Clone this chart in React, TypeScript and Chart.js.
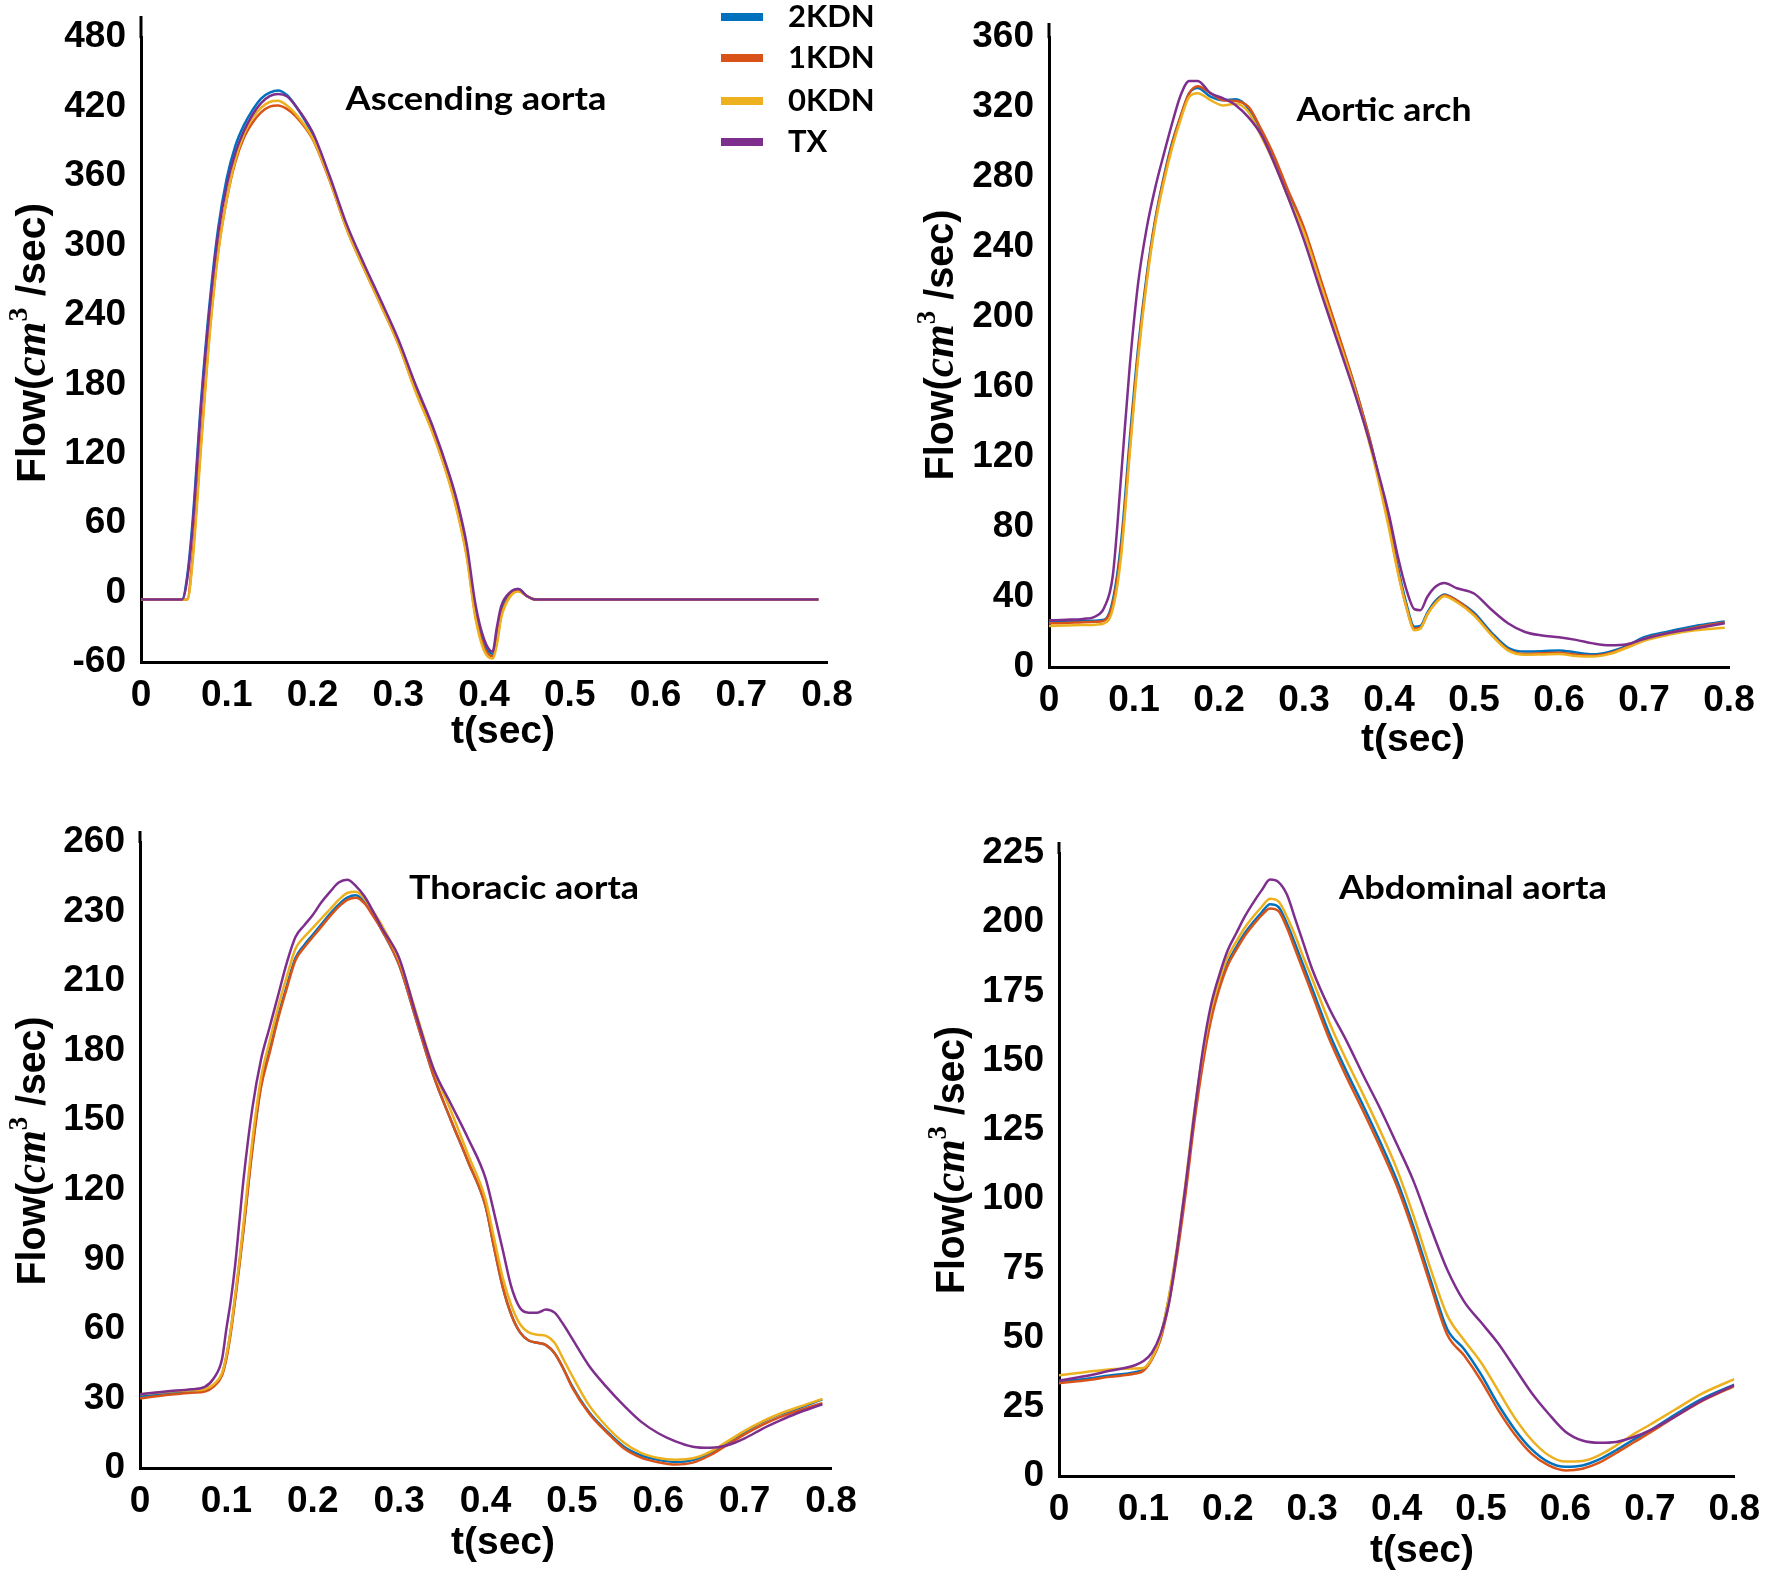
import { useEffect, useRef } from 'react';
import { Chart, registerables } from 'chart.js';

Chart.register(...registerables);

const seriesNames = ['2KDN', '1KDN', '0KDN', 'TX'];
const seriesColors = ['#0072BD', '#D95319', '#EDB120', '#7E2F8E'];
const xTickLabels = ['0', '0.1', '0.2', '0.3', '0.4', '0.5', '0.6', '0.7', '0.8'];

// Ascending aorta
const ascYTicks = ['-60', '0', '60', '120', '180', '240', '300', '360', '420', '480'];
const ascTime = [0, 0.048, 0.054, 0.06, 0.07, 0.08, 0.09, 0.1, 0.11, 0.12, 0.13, 0.14, 0.15, 0.16, 0.17, 0.18, 0.2, 0.22, 0.24, 0.26, 0.28, 0.3, 0.32, 0.34, 0.36, 0.37, 0.38, 0.39, 0.4, 0.41, 0.415, 0.42, 0.43, 0.44, 0.45, 0.46, 0.79];
const asc2KDN = [-6, -6, 15, 60, 165, 250, 315, 358, 386, 404, 417, 427, 432, 434, 430, 421, 396, 358, 315, 281, 249, 216, 176, 140, 97, 70, 36, -16, -44, -53, -36, -16, -1, 3, -3, -6, -6];
const asc1KDN = [-6, -6, -6, 30, 130, 225, 295, 340, 372, 393, 406, 415, 420, 421, 418, 412, 392, 356, 314, 280, 248, 215, 175, 139, 95, 67, 32, -20, -47, -55, -42, -20, -3, 2, -3, -6, -6];
const asc0KDN = [-6, -6, -6, 25, 125, 222, 293, 340, 374, 396, 410, 419, 424, 425, 421, 414, 393, 357, 314, 280, 248, 215, 174, 138, 94, 66, 30, -22, -50, -57, -45, -22, -4, 1, -3, -6, -6];
const ascTX = [-6, -6, 12, 55, 160, 245, 310, 352, 380, 399, 413, 423, 429, 431, 429, 421, 398, 360, 318, 284, 252, 219, 180, 144, 101, 75, 41, -10, -40, -51, -30, -12, 0, 3, -3, -6, -6];

// Aortic arch
const archYTicks = ['0', '40', '80', '120', '160', '200', '240', '280', '320', '360'];
const archTime = [0, 0.02, 0.04, 0.055, 0.065, 0.075, 0.085, 0.095, 0.105, 0.115, 0.125, 0.135, 0.145, 0.155, 0.165, 0.175, 0.19, 0.205, 0.22, 0.235, 0.25, 0.265, 0.28, 0.3, 0.32, 0.34, 0.36, 0.38, 0.4, 0.41, 0.42, 0.43, 0.437, 0.445, 0.455, 0.465, 0.48, 0.5, 0.52, 0.54, 0.56, 0.58, 0.6, 0.62, 0.64, 0.66, 0.68, 0.7, 0.73, 0.76, 0.795];
const arch2KDN = [25.9, 26, 26.5, 26.5, 27, 38, 72, 130, 183, 224, 256, 280, 300, 315, 328, 331, 326, 324, 324.5, 319, 305, 290, 272, 250, 220, 190, 160, 125, 82, 58, 37, 23, 23.5, 31, 38, 41.5, 38, 31, 20, 11, 8.8, 9, 9.5, 8.3, 7.3, 8.8, 12, 17, 20.5, 23.5, 26];
const arch1KDN = [25, 25.2, 25.6, 25.8, 26.5, 36, 68, 125, 180, 222, 255, 279, 299, 315, 328, 332, 328, 324, 323.5, 320, 307, 292, 274, 251, 221, 191, 160, 125, 81, 56, 35, 22, 22.5, 30, 37, 41, 38, 30, 19, 10, 7.5, 7.8, 8.2, 7, 6.5, 8, 11.5, 16, 19.5, 22.5, 25.5];
const arch0KDN = [23.5, 23.7, 24, 24.2, 25, 33, 64, 122, 177, 220, 253, 277, 297, 313, 326, 328, 324, 321, 322, 317, 303, 288, 270, 248, 218, 188, 158, 122, 79, 55, 35, 21, 22, 30, 36.5, 40.5, 37, 29.5, 18.5, 9.5, 7, 7.2, 7.5, 6.3, 6, 7.5, 11, 15, 18.5, 21, 22.5];
const archTX = [26.7, 27, 27.5, 29, 34, 52, 110, 172, 220, 251, 274, 293, 311, 327, 335, 335, 328, 325, 321, 314, 304, 288, 270, 244, 214, 185, 156, 124, 87, 64, 45, 33, 32.5, 40, 46, 48, 45, 42, 33, 25, 20, 18, 17, 15.5, 13.5, 12.4, 13, 16, 19.5, 22, 25];

// Thoracic aorta (labels as printed: the 9th tick reads 230)
const thorYTicks = ['0', '30', '60', '90', '120', '150', '180', '210', '230', '260'];
const thorTime = [0, 0.03, 0.06, 0.075, 0.085, 0.095, 0.1, 0.105, 0.11, 0.115, 0.12, 0.13, 0.14, 0.15, 0.16, 0.17, 0.18, 0.19, 0.2, 0.21, 0.22, 0.23, 0.24, 0.25, 0.26, 0.27, 0.28, 0.3, 0.32, 0.34, 0.36, 0.38, 0.4, 0.41, 0.42, 0.43, 0.44, 0.45, 0.46, 0.47, 0.48, 0.49, 0.5, 0.52, 0.54, 0.56, 0.58, 0.6, 0.62, 0.64, 0.66, 0.68, 0.7, 0.72, 0.74, 0.76, 0.79];
const thor2KDN = [30.7, 32, 33, 33.5, 35.5, 40.5, 48, 59, 73, 88, 104, 138, 165, 180, 195, 208, 220, 225.5, 230, 234.5, 239, 243, 246, 247, 244, 238.5, 232, 217, 193, 169, 150, 132, 113, 95, 78, 66, 58.5, 55, 54, 53, 49.5, 43, 35.5, 24, 16, 9.3, 5.5, 3.5, 2.6, 3.4, 6.5, 11, 15.6, 19.7, 23, 25.5, 29.6];
const thor1KDN = [30, 31.5, 32.5, 33, 35, 40, 47, 58, 72, 87, 103, 137, 164, 179, 194, 207, 219, 224.5, 229, 233.5, 238, 242, 245, 246, 243.5, 238, 232, 217, 193, 169, 150, 132, 113, 95, 78, 66, 58.5, 55, 54, 53, 49.5, 43, 35, 23.5, 15.5, 8.5, 4.5, 2.5, 1.5, 2.3, 5.5, 10, 14.5, 18.5, 21.8, 24.5, 28];
const thor0KDN = [31.8, 32.8, 33.5, 34, 36, 41, 48.5, 59.5, 74, 89, 106, 141, 168, 184, 199, 212, 224, 229, 233, 237, 241, 245, 248, 248.5, 245.5, 240, 234, 219, 196, 172, 154, 135, 116, 99, 82, 70, 62, 58.5, 57.5, 57, 54, 47, 40, 27, 18, 11, 6.5, 4.3, 3.6, 4.2, 7, 11.5, 16, 20, 23.3, 26, 29.8];
const thorTX = [31.8, 33, 34, 35, 38.5, 47, 60, 72, 87, 106, 125, 155, 176, 190, 204, 218, 229, 234, 238.5, 244, 248.5, 252.5, 253.7, 251, 246.5, 240, 233, 220, 195, 172, 157, 142, 125, 110, 94, 78, 69, 67, 67, 68.4, 67, 62, 56, 44, 35, 27, 20, 15, 11.5, 9.2, 8.7, 9.8, 12.8, 16.8, 20.3, 23.5, 27.5];

// Abdominal aorta
const abdYTicks = ['0', '25', '50', '75', '100', '125', '150', '175', '200', '225'];
const abdTime = [0, 0.03, 0.06, 0.09, 0.1, 0.11, 0.12, 0.13, 0.14, 0.15, 0.16, 0.17, 0.18, 0.19, 0.2, 0.21, 0.22, 0.23, 0.24, 0.25, 0.26, 0.27, 0.28, 0.29, 0.3, 0.32, 0.34, 0.36, 0.38, 0.4, 0.42, 0.44, 0.46, 0.48, 0.5, 0.52, 0.54, 0.56, 0.58, 0.6, 0.62, 0.64, 0.66, 0.68, 0.7, 0.73, 0.76, 0.8];
const abd2KDN = [34, 35, 36.3, 37.5, 38.5, 42.5, 50, 64, 82, 104, 129, 150, 166, 177, 185.5, 191, 196, 200, 203.5, 206.5, 205.5, 199.5, 192, 184, 176, 160, 146.5, 134, 121, 107, 90, 71, 53, 45.8, 36.7, 26, 16.8, 9.6, 5, 3.3, 3.8, 6, 9.3, 13, 16.4, 22.2, 27.6, 33];
const abd1KDN = [33.5, 34.5, 35.8, 37, 38, 42, 49, 62, 80, 102, 127, 148, 164.5, 176, 184.5, 190, 195, 199, 202.5, 205, 204, 198, 190, 182, 174, 158, 144.5, 132, 119, 105, 88, 69, 51, 43.5, 34.5, 24, 15, 8, 3.8, 2, 2.6, 4.8, 8.3, 12, 15.6, 21.4, 26.8, 32.5];
const abd0KDN = [36.4, 37.5, 38.5, 38.8, 39, 42.5, 50, 64.5, 83, 106, 131, 152, 168, 179, 187.5, 193, 198, 202, 205.5, 208.5, 207.5, 202, 195, 187, 179.5, 164, 150.5, 138, 125, 111, 94, 75, 58, 49, 41, 31, 21, 13, 7.5, 5.2, 5.4, 7.5, 11, 15, 18.5, 24, 29.5, 35];
const abdTX = [34.4, 36, 38, 40, 41.5, 44.5, 51, 62, 82, 105, 130, 153, 170, 181, 190, 196, 202, 207, 211.5, 215.4, 214.5, 210, 201, 192, 183, 169, 157.5, 145, 133, 120, 106.5, 90, 74.5, 63, 55.5, 48, 39, 30, 22.5, 16, 12.8, 12, 12.3, 14, 16.5, 21.5, 27, 32.8];

type Box = { x: number; y: number; w: number; h: number };
type Panel = {
  title: string;
  time: number[];
  values: number[][];
  yMin: number;
  yMax: number;
  yStep: number;
  yLabels: string[];
  box: Box;
  area: { l: number; t: number; r: number; b: number };
  axisTop: number;
  titleAt: { x: number; y: number; w: number };
  yTitleAt: { x: number; y: number; len: number };
  xTitleAt: { x: number; y: number };
  legend: boolean;
};

const panels: Panel[] = [
  {
    title: 'Ascending aorta', time: ascTime, values: [asc2KDN, asc1KDN, asc0KDN, ascTX],
    yMin: -60, yMax: 480, yStep: 60, yLabels: ascYTicks,
    box: { x: 0, y: 0, w: 886, h: 790 }, area: { l: 141, t: 27, r: 827, b: 662 }, axisTop: 16,
    titleAt: { x: 476, y: 100, w: 261 }, yTitleAt: { x: 30, y: 343, len: 280 }, xTitleAt: { x: 503, y: 732 },
    legend: true,
  },
  {
    title: 'Aortic arch', time: archTime, values: [arch2KDN, arch1KDN, arch0KDN, archTX],
    yMin: 0, yMax: 360, yStep: 40, yLabels: archYTicks,
    box: { x: 886, y: 0, w: 886, h: 790 }, area: { l: 1049, t: 36, r: 1729, b: 667 }, axisTop: 23,
    titleAt: { x: 1384, y: 111, w: 175 }, yTitleAt: { x: 938, y: 345, len: 271 }, xTitleAt: { x: 1413, y: 740 },
    legend: false,
  },
  {
    title: 'Thoracic aorta', time: thorTime, values: [thor2KDN, thor1KDN, thor0KDN, thorTX],
    yMin: 0, yMax: 270, yStep: 30, yLabels: thorYTicks,
    box: { x: 0, y: 790, w: 886, h: 787 }, area: { l: 140, t: 842, r: 831, b: 1468 }, axisTop: 831,
    titleAt: { x: 524, y: 889, w: 230 }, yTitleAt: { x: 30, y: 1151, len: 269 }, xTitleAt: { x: 503, y: 1543 },
    legend: false,
  },
  {
    title: 'Abdominal aorta', time: abdTime, values: [abd2KDN, abd1KDN, abd0KDN, abdTX],
    yMin: 0, yMax: 225, yStep: 25, yLabels: abdYTicks,
    box: { x: 886, y: 790, w: 886, h: 787 }, area: { l: 1059, t: 853, r: 1737, b: 1476 }, axisTop: 842,
    titleAt: { x: 1473, y: 889, w: 268 }, yTitleAt: { x: 949, y: 1160, len: 268 }, xTitleAt: { x: 1422, y: 1551 },
    legend: false,
  },
];

const tickFont = { family: '"Liberation Sans", Arial, sans-serif', size: 37, weight: 'bold' as const };

// titles, axis labels and legend drawn on top of each panel
const overlay = (p: Panel) => ({
  id: 'overlay',
  afterDraw(chart: Chart) {
    const ctx = chart.ctx;
    const ox = p.box.x;
    const oy = p.box.y;
    const ca = chart.chartArea;
    ctx.save();
    ctx.fillStyle = '#000';

    // y axis runs a little past the top tick
    ctx.strokeStyle = '#000';
    ctx.lineWidth = 3;
    ctx.beginPath();
    ctx.moveTo(ca.left, ca.top + 1);
    ctx.lineTo(ca.left, p.axisTop - oy);
    ctx.stroke();

    // panel title
    ctx.font = 'bold 32px Lato';
    ctx.textAlign = 'center';
    ctx.textBaseline = 'middle';
    const tw = ctx.measureText(p.title).width;
    ctx.save();
    ctx.translate(p.titleAt.x - ox, p.titleAt.y - oy);
    ctx.scale(p.titleAt.w / tw, 1);
    ctx.fillText(p.title, 0, 0);
    ctx.restore();

    // x title
    ctx.font = 'bold 39px "Liberation Sans"';
    ctx.fillText('t(sec)', p.xTitleAt.x - ox, p.xTitleAt.y - oy);

    // y title, mixed fonts
    const pieces = [
      { t: 'Flow(', f: 'bold 41px "Liberation Sans"', dy: 0 },
      { t: 'cm', f: 'italic bold 45px "Liberation Serif"', dy: 0 },
      { t: '3', f: 'bold 28px "Liberation Serif"', dy: -18 },
      { t: ' /sec)', f: 'bold 41px "Liberation Sans"', dy: 0 },
    ];
    let total = 0;
    const widths = pieces.map((pc) => {
      ctx.font = pc.f;
      const w = ctx.measureText(pc.t).width;
      total += w;
      return w;
    });
    ctx.save();
    ctx.translate(p.yTitleAt.x - ox, p.yTitleAt.y - oy);
    ctx.rotate(-Math.PI / 2);
    ctx.scale(p.yTitleAt.len / total, 1);
    ctx.textAlign = 'left';
    ctx.textBaseline = 'alphabetic';
    let cx = -total / 2;
    pieces.forEach((pc, i) => {
      ctx.font = pc.f;
      ctx.fillText(pc.t, cx, 15 + pc.dy);
      cx += widths[i];
    });
    ctx.restore();

    // legend
    if (p.legend) {
      const rows = [17, 58, 101, 142];
      ctx.font = 'bold 31px Lato';
      ctx.textAlign = 'left';
      ctx.textBaseline = 'middle';
      seriesNames.forEach((name, i) => {
        ctx.strokeStyle = seriesColors[i];
        ctx.lineWidth = 8;
        ctx.beginPath();
        ctx.moveTo(721 - ox, rows[i] - oy);
        ctx.lineTo(763 - ox, rows[i] - oy);
        ctx.stroke();
        ctx.fillText(name, 788 - ox, rows[i] - oy);
      });
    }
    ctx.restore();
  },
});

function FlowPanel({ panel }: { panel: Panel }) {
  const chartRef = useRef<HTMLCanvasElement>(null);

  useEffect(() => {
    if (!chartRef.current) return;
    const { box, area } = panel;
    const chart = new Chart(chartRef.current, {
      type: 'line',
      data: {
        datasets: panel.values.map((vals, i) => ({
          label: seriesNames[i],
          data: panel.time.map((t, j) => ({ x: t, y: vals[j] })),
          borderColor: seriesColors[i],
          backgroundColor: seriesColors[i],
          borderWidth: 2.5,
          pointRadius: 0,
          cubicInterpolationMode: 'monotone' as const,
          fill: false,
          order: 3 - i, // TX drawn last, on top
        })),
      },
      options: {
        responsive: false,
        animation: false,
        layout: {
          padding: { left: 0, bottom: 0, top: area.t - box.y, right: box.x + box.w - area.r },
        },
        plugins: {
          legend: { display: false },
          tooltip: { enabled: false },
        },
        scales: {
          x: {
            type: 'linear',
            min: 0,
            max: 0.8,
            grid: { display: false, drawTicks: false },
            border: { display: true, color: '#000', width: 3 },
            ticks: {
              stepSize: 0.1,
              autoSkip: false,
              maxRotation: 0,
              color: '#000',
              font: tickFont,
              padding: 12,
              callback: (_v, i) => xTickLabels[i],
            },
            afterFit: (s) => {
              s.height = box.y + box.h - area.b;
            },
          },
          y: {
            type: 'linear',
            min: panel.yMin,
            max: panel.yMax,
            grid: { display: false, drawTicks: false },
            border: { display: true, color: '#000', width: 3 },
            ticks: {
              stepSize: panel.yStep,
              autoSkip: false,
              color: '#000',
              font: tickFont,
              padding: 15,
              callback: (_v, i) => panel.yLabels[i],
            },
            afterFit: (s) => {
              s.width = area.l - box.x;
            },
          },
        },
      },
      plugins: [overlay(panel)],
    });

    return () => {
      chart.destroy();
    };
  }, [panel]);

  return (
    <canvas
      ref={chartRef}
      width={panel.box.w}
      height={panel.box.h}
      style={{ position: 'absolute', left: panel.box.x, top: panel.box.y, width: panel.box.w, height: panel.box.h }}
    />
  );
}

export default function App() {
  return (
    <div style={{ position: 'absolute', left: 0, top: 0, width: 1772, height: 1577, background: '#fff' }}>
      {panels.map((p) => (
        <FlowPanel key={p.title} panel={p} />
      ))}
    </div>
  );
}
